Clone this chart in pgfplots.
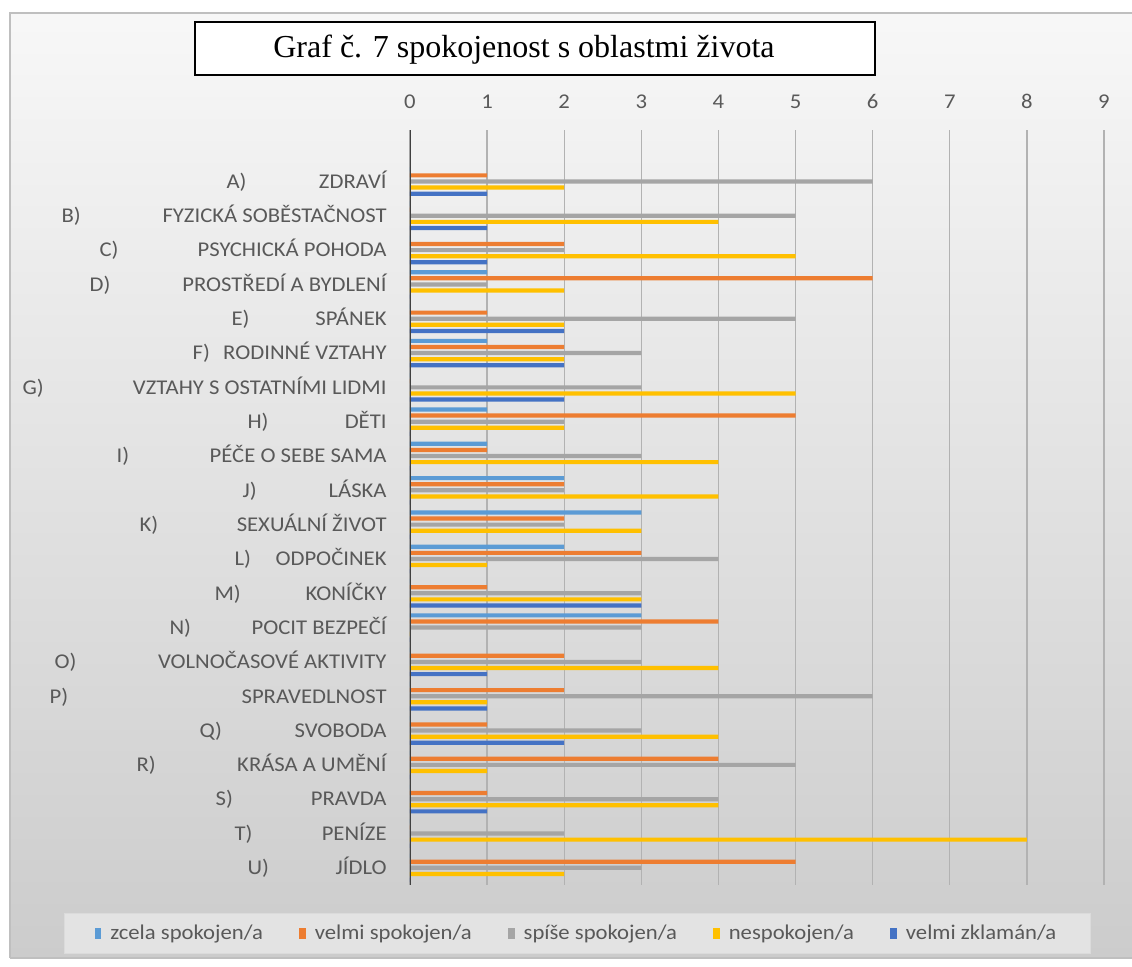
\documentclass[border=0pt]{standalone}
\usepackage{fontspec}
\setmainfont{Carlito}[FakeStretch=1.08]
\newfontfamily\titlefont{Liberation Serif}
\usepackage{pgfplots}
\pgfplotsset{compat=1.18}
\usepackage{pgfplotstable}
\definecolor{c1}{HTML}{5B9BD5}
\definecolor{c2}{HTML}{ED7D31}
\definecolor{c3}{HTML}{A5A5A5}
\definecolor{c4}{HTML}{FFC000}
\definecolor{c5}{HTML}{4472C4}
\definecolor{txt}{HTML}{595959}
\newcommand\lab[3]{\makebox[#1pt]{#2\hfill #3}}
\newcommand\lf{\fontsize{10.5}{12}\selectfont}

% y: A=21 ... U=1 ; lb=zcela, or=velmi spokojen, gr=spise, ye=nespokojen, db=velmi zklaman
\pgfplotstableread{
y  lb or gr ye db
21 0  1  6  2  1
20 0  0  5  4  1
19 0  2  2  5  1
18 1  6  1  2  0
17 0  1  5  2  2
16 1  2  3  2  2
15 0  0  3  5  2
14 1  5  2  2  0
13 1  1  3  4  0
12 2  2  2  4  0
11 3  2  2  3  0
10 2  3  4  1  0
9  0  1  3  3  3
8  3  4  3  0  0
7  0  2  3  4  1
6  0  2  6  1  1
5  0  1  3  4  2
4  0  4  5  1  0
3  0  1  4  4  1
2  0  0  2  8  0
1  0  5  3  2  0
}\data

\begin{document}
\begin{tikzpicture}
\path[use as bounding box] (0,0) rectangle (566pt,483.5pt);
\fill[white] (0,0) rectangle (566pt,483.5pt);
\shade[top color=black!3, bottom color=black!20] (5pt,4.5pt) rectangle (566pt,477pt);
\draw[black!25, line width=0.8pt] (5pt,4.5pt) -- (5pt,477pt) -- (566pt,477pt);
\draw[black!25, line width=0.8pt] (5pt,4.5pt) -- (566pt,4.5pt);
% title box
\draw[black, line width=0.75pt, fill=white] (97.5pt,446pt) rectangle (437.5pt,472.5pt);
\node[anchor=base, inner sep=0pt] at (262pt,454.5pt) {\titlefont\fontsize{16}{19}\selectfont Graf č. 7 spokojenost s oblastmi života};
\begin{axis}[
  at={(205pt,41pt)}, anchor=south west,
  scale only axis, width=347pt, height=377.5pt,
  xmin=0, xmax=9, ymin=0.5, ymax=22.5,
  xbar, bar width=2.1pt,
  axis x line*=top, axis y line*=left,
  x axis line style={draw=none},
  y axis line style={draw=none},
  xtick={0,...,9}, ytick={1,...,21},
  major tick length=0pt,
  xmajorgrids, grid style={black!30, line width=0.7pt},
  /pgf/number format/assume math mode=true,
  xticklabel style={font=\lf, text=txt, anchor=south, inner sep=0pt, yshift=10.5pt},
  yticklabel style={font=\lf, text=txt, anchor=base east, inner sep=0pt, xshift=-11.5pt, yshift=-3.4pt},
  yticklabels={
    {\lab{69.5}{U)}{JÍDLO}},
    {\lab{76}{T)}{PENÍZE}},
    {\lab{85.5}{S)}{PRAVDA}},
    {\lab{125}{R)}{KRÁSA A UMĚNÍ}},
    {\lab{93.5}{Q)}{SVOBODA}},
    {\lab{168.5}{P)}{SPRAVEDLNOST}},
    {\lab{166}{O)}{VOLNOČASOVÉ AKTIVITY}},
    {\lab{108.5}{N)}{POCIT BEZPEČÍ}},
    {\lab{86}{M)}{KONÍČKY}},
    {\lab{76}{L)}{ODPOČINEK}},
    {\lab{123.5}{K)}{SEXUÁLNÍ ŽIVOT}},
    {\lab{72}{J)}{LÁSKA}},
    {\lab{135}{I)}{PÉČE O SEBE SAMA}},
    {\lab{69.5}{H)}{DĚTI}},
    {\lab{182}{G)}{VZTAHY S OSTATNÍMI LIDMI}},
    {\lab{97}{F)}{RODINNÉ VZTAHY}},
    {\lab{77.5}{E)}{SPÁNEK}},
    {\lab{148.5}{D)}{PROSTŘEDÍ A BYDLENÍ}},
    {\lab{143.5}{C)}{PSYCHICKÁ POHODA}},
    {\lab{162.5}{B)}{FYZICKÁ SOBĚSTAČNOST}},
    {\lab{80}{A)}{ZDRAVÍ}}
  },
  legend columns=5,
  legend image code/.code={\fill[#1] (0pt,-2.8pt) rectangle (3.4pt,2.8pt);},
  legend style={at={(axis description cs:0.2413,-0.0642)}, anchor=center,
    draw=black!14, fill=black!11, font=\lf, text=txt,
    inner xsep=15pt, inner ysep=3.5pt,
    /tikz/every odd column/.append style={column sep=2.5pt},
    /tikz/every even column/.append style={column sep=16pt}},
]
\addplot[fill=c1, draw=none, bar shift=6.1pt] table[x=lb, y=y] {\data};
\addplot[fill=c2, draw=none, bar shift=3.05pt] table[x=or, y=y] {\data};
\addplot[fill=c3, draw=none, bar shift=0pt] table[x=gr, y=y] {\data};
\addplot[fill=c4, draw=none, bar shift=-3.05pt] table[x=ye, y=y] {\data};
\addplot[fill=c5, draw=none, bar shift=-6.1pt] table[x=db, y=y] {\data};
\legend{zcela spokojen/a, velmi spokojen/a, spíše spokojen/a, nespokojen/a, velmi zklamán/a}
\draw[black!75, line width=1.5pt] (rel axis cs:0,0) -- (rel axis cs:0,1);
\end{axis}
\end{tikzpicture}
\end{document}
